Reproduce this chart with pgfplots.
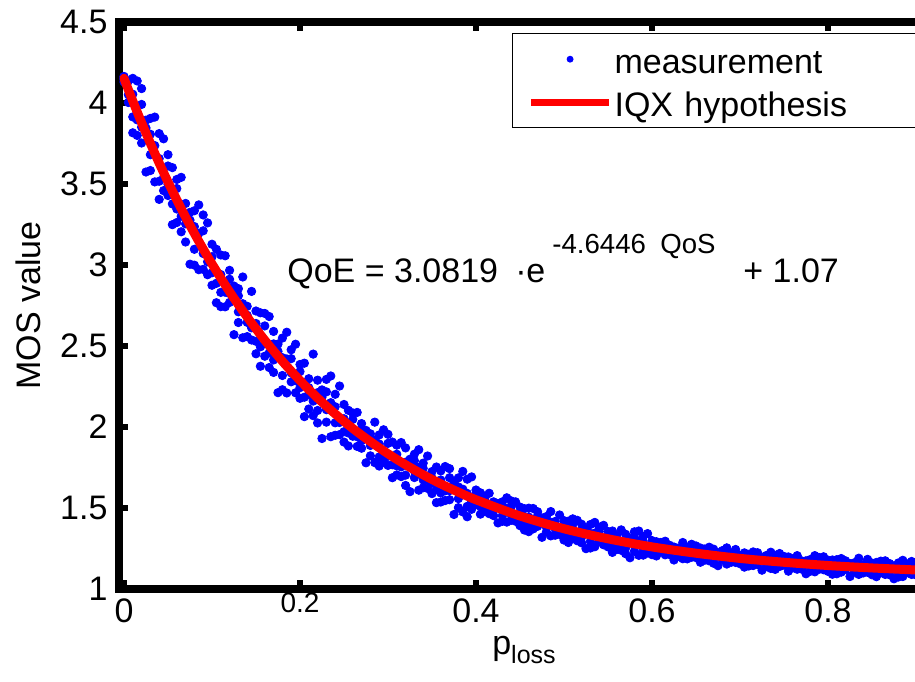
\documentclass[border=0pt]{standalone}
\usepackage{fontspec}
\setmainfont{Liberation Sans}
\usepackage{pgfplots}
\pgfplotsset{compat=1.18}
\pgfplotsset{
  legdot/.style={legend image code/.code={\draw[mark repeat=2, mark phase=2, ##1, mark size=1.4pt] plot coordinates {(0pt,0pt) (19.5pt,0pt) (39pt,0pt)};}},
  legline/.style={legend image code/.code={\draw[##1, line cap=butt, line width=3.5pt] (0pt,0pt) -- (39pt,0pt);}},
}
\newcommand{\fs}{\fontsize{17}{20}\selectfont}
\newcommand{\fsup}{\fontsize{13.8}{16}\selectfont}
\begin{document}
\begin{tikzpicture}
\path[use as bounding box] (-59.35pt,-46pt) rectangle (398.15pt,294.5pt);
\begin{axis}[
  scale only axis, width=403.05pt, height=283.5pt,
  xmin=-0.006, xmax=0.91, ymin=1, ymax=4.5,
  clip marker paths=true,
  axis line style={line width=4pt, line join=miter},
  tick align=inside, major tick length=4.5pt,
  tick style={black, line width=3pt},
  xtick={0,0.2,0.4,0.6,0.8},
  xticklabels={0,{\fontsize{14}{16}\selectfont\raisebox{5pt}{0.2}},0.4,0.6,0.8},
  ytick={1,1.5,2,2.5,3,3.5,4,4.5},
  yticklabels={1,1.5,2,2.5,3,3.5,4,4.5},
  tick label style={font=\fs},
  xticklabel style={anchor=base, inner sep=0pt, yshift=-16.5pt},
  yticklabel style={anchor=east, inner sep=0pt, xshift=-5.4pt},
  xlabel={p\raisebox{-4.5pt}{\fontsize{12.5}{14}\selectfont loss}},
  xlabel style={at={(axis description cs:0.5028,0)}, anchor=base, yshift=-32.5pt, font=\fs, inner sep=0pt},
  ylabel={MOS value},
  ylabel style={at={(axis description cs:-0.0976,0.5)}, anchor=base, font=\fs, inner sep=0pt},
  legend style={at={(0.4879,0.9806)}, anchor=north west, draw=black, line width=0.6pt, fill=white,
    inner xsep=7.5pt, inner ysep=3.8pt, row sep=3.5pt, font=\fs,
    nodes={inner sep=1pt, text height=15pt, text depth=1pt, text width=146pt},
    /tikz/every even column/.append style={column sep=5pt}},
  legend cell align=left,
]
\addplot[only marks, mark=*, mark size=2.1pt, color=blue, mark options={draw=blue, fill=blue}, legdot]
table[row sep=\\] {
x y\\
0.00 4.164\\ 0.00 4.146\\ 0.00 4.130\\ 0.00 4.154\\
0.01 4.152\\ 0.01 3.914\\ 0.01 4.054\\ 0.01 3.816\\
0.02 3.851\\ 0.02 3.991\\ 0.02 3.753\\ 0.02 4.089\\
0.03 3.807\\ 0.03 3.583\\ 0.03 3.905\\ 0.03 3.681\\
0.04 3.517\\ 0.04 3.657\\ 0.04 3.811\\ 0.04 3.405\\
0.05 3.681\\ 0.05 3.499\\ 0.05 3.429\\ 0.05 3.611\\
0.06 3.262\\ 0.06 3.472\\ 0.06 3.528\\ 0.06 3.346\\
0.07 3.380\\ 0.07 3.254\\ 0.07 3.142\\ 0.07 3.310\\
0.08 3.335\\ 0.08 3.097\\ 0.08 3.237\\ 0.08 2.999\\
0.09 3.071\\ 0.09 3.211\\ 0.09 2.973\\ 0.09 3.309\\
0.10 3.051\\ 0.10 2.875\\ 0.10 3.128\\ 0.10 2.952\\
0.11 2.831\\ 0.11 2.941\\ 0.11 3.062\\ 0.11 2.743\\
0.12 2.967\\ 0.12 2.824\\ 0.12 2.769\\ 0.12 2.912\\
0.13 2.645\\ 0.13 2.810\\ 0.13 2.854\\ 0.13 2.711\\
0.14 2.745\\ 0.14 2.646\\ 0.14 2.558\\ 0.14 2.690\\
0.15 2.716\\ 0.15 2.529\\ 0.15 2.639\\ 0.15 2.452\\
0.16 2.514\\ 0.16 2.624\\ 0.16 2.437\\ 0.16 2.701\\
0.17 2.513\\ 0.17 2.337\\ 0.17 2.590\\ 0.17 2.414\\
0.18 2.318\\ 0.18 2.428\\ 0.18 2.549\\ 0.18 2.230\\
0.19 2.477\\ 0.19 2.334\\ 0.19 2.279\\ 0.19 2.422\\
0.20 2.177\\ 0.20 2.342\\ 0.20 2.386\\ 0.20 2.243\\
0.21 2.298\\ 0.21 2.199\\ 0.21 2.111\\ 0.21 2.243\\
0.22 2.289\\ 0.22 2.102\\ 0.22 2.212\\ 0.22 2.025\\
0.23 2.107\\ 0.23 2.217\\ 0.23 2.030\\ 0.23 2.294\\
0.24 2.125\\ 0.24 1.949\\ 0.24 2.202\\ 0.24 2.026\\
0.25 1.971\\ 0.25 2.051\\ 0.25 2.139\\ 0.25 1.907\\
0.26 2.087\\ 0.26 1.983\\ 0.26 1.943\\ 0.26 2.047\\
0.27 1.869\\ 0.27 1.989\\ 0.27 2.021\\ 0.27 1.917\\
0.28 1.958\\ 0.28 1.886\\ 0.28 1.822\\ 0.28 1.918\\
0.29 1.951\\ 0.29 1.815\\ 0.29 1.895\\ 0.29 1.759\\
0.30 1.819\\ 0.30 1.899\\ 0.30 1.763\\ 0.30 1.955\\
0.31 1.832\\ 0.31 1.704\\ 0.31 1.888\\ 0.31 1.760\\
0.32 1.703\\ 0.32 1.783\\ 0.32 1.871\\ 0.32 1.639\\
0.33 1.832\\ 0.33 1.728\\ 0.33 1.688\\ 0.33 1.792\\
0.34 1.625\\ 0.34 1.745\\ 0.34 1.777\\ 0.34 1.673\\
0.35 1.725\\ 0.35 1.653\\ 0.35 1.589\\ 0.35 1.685\\
0.36 1.729\\ 0.36 1.593\\ 0.36 1.673\\ 0.36 1.537\\
0.37 1.607\\ 0.37 1.687\\ 0.37 1.551\\ 0.37 1.743\\
0.38 1.630\\ 0.38 1.502\\ 0.38 1.686\\ 0.38 1.558\\
0.39 1.510\\ 0.39 1.590\\ 0.39 1.678\\ 0.39 1.446\\
0.40 1.611\\ 0.40 1.546\\ 0.40 1.521\\ 0.40 1.586\\
0.41 1.479\\ 0.41 1.554\\ 0.41 1.574\\ 0.41 1.509\\
0.42 1.538\\ 0.42 1.493\\ 0.42 1.453\\ 0.42 1.513\\
0.43 1.538\\ 0.43 1.453\\ 0.43 1.503\\ 0.43 1.418\\
0.44 1.459\\ 0.44 1.509\\ 0.44 1.424\\ 0.44 1.544\\
0.45 1.471\\ 0.45 1.391\\ 0.45 1.506\\ 0.45 1.426\\
0.46 1.394\\ 0.46 1.444\\ 0.46 1.499\\ 0.46 1.354\\
0.47 1.477\\ 0.47 1.412\\ 0.47 1.387\\ 0.47 1.452\\
0.48 1.352\\ 0.48 1.427\\ 0.48 1.447\\ 0.48 1.382\\
0.49 1.417\\ 0.49 1.372\\ 0.49 1.332\\ 0.49 1.392\\
0.50 1.422\\ 0.50 1.337\\ 0.50 1.387\\ 0.50 1.302\\
0.51 1.348\\ 0.51 1.398\\ 0.51 1.313\\ 0.51 1.433\\
0.52 1.365\\ 0.52 1.285\\ 0.52 1.400\\ 0.52 1.320\\
0.53 1.293\\ 0.53 1.343\\ 0.53 1.398\\ 0.53 1.253\\
0.54 1.381\\ 0.54 1.316\\ 0.54 1.291\\ 0.54 1.356\\
0.55 1.260\\ 0.55 1.335\\ 0.55 1.355\\ 0.55 1.290\\
0.56 1.329\\ 0.56 1.284\\ 0.56 1.244\\ 0.56 1.304\\
0.57 1.338\\ 0.57 1.253\\ 0.57 1.303\\ 0.57 1.218\\
0.58 1.268\\ 0.58 1.318\\ 0.58 1.233\\ 0.58 1.353\\
0.59 1.289\\ 0.59 1.209\\ 0.59 1.324\\ 0.59 1.244\\
0.60 1.236\\ 0.60 1.266\\ 0.60 1.299\\ 0.60 1.212\\
0.61 1.287\\ 0.61 1.248\\ 0.61 1.233\\ 0.61 1.272\\
0.62 1.213\\ 0.62 1.258\\ 0.62 1.270\\ 0.62 1.231\\
0.63 1.253\\ 0.63 1.226\\ 0.63 1.202\\ 0.63 1.238\\
0.64 1.258\\ 0.64 1.207\\ 0.64 1.237\\ 0.64 1.186\\
0.65 1.215\\ 0.65 1.245\\ 0.65 1.194\\ 0.65 1.266\\
0.66 1.226\\ 0.66 1.178\\ 0.66 1.247\\ 0.66 1.199\\
0.67 1.183\\ 0.67 1.213\\ 0.67 1.246\\ 0.67 1.159\\
0.68 1.237\\ 0.68 1.198\\ 0.68 1.183\\ 0.68 1.222\\
0.69 1.165\\ 0.69 1.210\\ 0.69 1.222\\ 0.69 1.183\\
0.70 1.207\\ 0.70 1.180\\ 0.70 1.156\\ 0.70 1.192\\
0.71 1.214\\ 0.71 1.163\\ 0.71 1.193\\ 0.71 1.142\\
0.72 1.173\\ 0.72 1.203\\ 0.72 1.152\\ 0.72 1.224\\
0.73 1.186\\ 0.73 1.138\\ 0.73 1.207\\ 0.73 1.159\\
0.74 1.145\\ 0.74 1.175\\ 0.74 1.208\\ 0.74 1.121\\
0.75 1.201\\ 0.75 1.162\\ 0.75 1.147\\ 0.75 1.186\\
0.76 1.130\\ 0.76 1.175\\ 0.76 1.187\\ 0.76 1.148\\
0.77 1.174\\ 0.77 1.147\\ 0.77 1.123\\ 0.77 1.159\\
0.78 1.182\\ 0.78 1.131\\ 0.78 1.161\\ 0.78 1.110\\
0.79 1.143\\ 0.79 1.173\\ 0.79 1.122\\ 0.79 1.194\\
0.80 1.157\\ 0.80 1.109\\ 0.80 1.178\\ 0.80 1.130\\
0.81 1.118\\ 0.81 1.148\\ 0.81 1.181\\ 0.81 1.094\\
0.82 1.174\\ 0.82 1.135\\ 0.82 1.120\\ 0.82 1.159\\
0.83 1.105\\ 0.83 1.150\\ 0.83 1.162\\ 0.83 1.123\\
0.84 1.150\\ 0.84 1.123\\ 0.84 1.099\\ 0.84 1.135\\
0.85 1.160\\ 0.85 1.109\\ 0.85 1.139\\ 0.85 1.088\\
0.86 1.121\\ 0.86 1.151\\ 0.86 1.100\\ 0.86 1.172\\
0.87 1.136\\ 0.87 1.088\\ 0.87 1.157\\ 0.87 1.109\\
0.88 1.098\\ 0.88 1.128\\ 0.88 1.161\\ 0.88 1.074\\
0.89 1.155\\ 0.89 1.116\\ 0.89 1.101\\ 0.89 1.140\\
0.90 1.087\\ 0.90 1.132\\ 0.90 1.144\\ 0.90 1.105\\
0.005 4.135\\ 0.005 4.051\\ 0.005 4.003\\
0.015 3.896\\ 0.015 4.136\\ 0.015 3.800\\
0.025 3.894\\ 0.025 3.574\\ 0.025 3.846\\
0.035 3.513\\ 0.035 3.737\\ 0.035 3.913\\
0.045 3.779\\ 0.045 3.539\\ 0.045 3.459\\
0.055 3.601\\ 0.055 3.377\\ 0.055 3.249\\
0.065 3.301\\ 0.065 3.541\\ 0.065 3.205\\
0.075 3.325\\ 0.075 3.005\\ 0.075 3.277\\
0.085 2.971\\ 0.085 3.195\\ 0.085 3.371\\
0.095 3.260\\ 0.095 3.020\\ 0.095 2.940\\
0.105 3.097\\ 0.105 2.887\\ 0.105 2.767\\
0.115 2.832\\ 0.115 3.057\\ 0.115 2.742\\
0.125 2.870\\ 0.125 2.570\\ 0.125 2.825\\
0.135 2.551\\ 0.135 2.761\\ 0.135 2.926\\
0.145 2.837\\ 0.145 2.612\\ 0.145 2.537\\
0.155 2.705\\ 0.155 2.495\\ 0.155 2.375\\
0.165 2.457\\ 0.165 2.682\\ 0.165 2.367\\
0.175 2.512\\ 0.175 2.212\\ 0.175 2.467\\
0.185 2.210\\ 0.185 2.420\\ 0.185 2.585\\
0.195 2.511\\ 0.195 2.286\\ 0.195 2.211\\
0.205 2.394\\ 0.205 2.184\\ 0.205 2.064\\
0.215 2.160\\ 0.215 2.450\\ 0.215 2.070\\
0.225 2.229\\ 0.225 1.929\\ 0.225 2.184\\
0.235 1.940\\ 0.235 2.150\\ 0.235 2.315\\
0.245 2.253\\ 0.245 2.028\\ 0.245 1.953\\
0.255 2.103\\ 0.255 1.963\\ 0.255 1.883\\
0.265 1.940\\ 0.265 2.090\\ 0.265 1.880\\
0.275 1.979\\ 0.275 1.779\\ 0.275 1.949\\
0.285 1.780\\ 0.285 1.920\\ 0.285 2.030\\
0.295 1.983\\ 0.295 1.833\\ 0.295 1.783\\
0.305 1.907\\ 0.305 1.767\\ 0.305 1.687\\
0.315 1.754\\ 0.315 1.904\\ 0.315 1.694\\
0.325 1.801\\ 0.325 1.601\\ 0.325 1.771\\
0.335 1.610\\ 0.335 1.750\\ 0.335 1.860\\
0.345 1.821\\ 0.345 1.671\\ 0.345 1.621\\
0.355 1.753\\ 0.355 1.613\\ 0.355 1.533\\
0.365 1.606\\ 0.365 1.756\\ 0.365 1.546\\
0.375 1.660\\ 0.375 1.460\\ 0.375 1.630\\
0.385 1.476\\ 0.385 1.616\\ 0.385 1.726\\
0.395 1.692\\ 0.395 1.542\\ 0.395 1.492\\
0.405 1.594\\ 0.405 1.510\\ 0.405 1.462\\
0.415 1.501\\ 0.415 1.591\\ 0.415 1.465\\
0.425 1.528\\ 0.425 1.408\\ 0.425 1.510\\
0.435 1.413\\ 0.435 1.497\\ 0.435 1.563\\
0.445 1.538\\ 0.445 1.448\\ 0.445 1.418\\
0.455 1.496\\ 0.455 1.412\\ 0.455 1.364\\
0.465 1.407\\ 0.465 1.497\\ 0.465 1.371\\
0.475 1.439\\ 0.475 1.319\\ 0.475 1.421\\
0.485 1.328\\ 0.485 1.412\\ 0.485 1.478\\
0.495 1.457\\ 0.495 1.367\\ 0.495 1.337\\
0.505 1.419\\ 0.505 1.335\\ 0.505 1.287\\
0.515 1.334\\ 0.515 1.424\\ 0.515 1.298\\
0.525 1.369\\ 0.525 1.249\\ 0.525 1.351\\
0.535 1.261\\ 0.535 1.345\\ 0.535 1.411\\
0.545 1.393\\ 0.545 1.303\\ 0.545 1.273\\
0.555 1.358\\ 0.555 1.274\\ 0.555 1.226\\
0.565 1.275\\ 0.565 1.365\\ 0.565 1.239\\
0.575 1.313\\ 0.575 1.193\\ 0.575 1.295\\
0.585 1.208\\ 0.585 1.292\\ 0.585 1.358\\
0.595 1.342\\ 0.595 1.252\\ 0.595 1.222\\
0.605 1.292\\ 0.605 1.236\\ 0.605 1.204\\
0.615 1.235\\ 0.615 1.295\\ 0.615 1.211\\
0.625 1.259\\ 0.625 1.179\\ 0.625 1.247\\
0.635 1.187\\ 0.635 1.243\\ 0.635 1.287\\
0.645 1.276\\ 0.645 1.216\\ 0.645 1.196\\
0.655 1.253\\ 0.655 1.197\\ 0.655 1.165\\
0.665 1.198\\ 0.665 1.258\\ 0.665 1.174\\
0.675 1.224\\ 0.675 1.144\\ 0.675 1.212\\
0.685 1.154\\ 0.685 1.210\\ 0.685 1.254\\
0.695 1.244\\ 0.695 1.184\\ 0.695 1.164\\
0.705 1.223\\ 0.705 1.167\\ 0.705 1.135\\
0.715 1.169\\ 0.715 1.229\\ 0.715 1.145\\
0.725 1.196\\ 0.725 1.116\\ 0.725 1.184\\
0.735 1.127\\ 0.735 1.183\\ 0.735 1.227\\
0.745 1.219\\ 0.745 1.159\\ 0.745 1.139\\
0.755 1.198\\ 0.755 1.142\\ 0.755 1.110\\
0.765 1.146\\ 0.765 1.206\\ 0.765 1.122\\
0.775 1.174\\ 0.775 1.094\\ 0.775 1.162\\
0.785 1.106\\ 0.785 1.162\\ 0.785 1.206\\
0.795 1.199\\ 0.795 1.139\\ 0.795 1.119\\
0.805 1.179\\ 0.805 1.123\\ 0.805 1.091\\
0.815 1.128\\ 0.815 1.188\\ 0.815 1.104\\
0.825 1.157\\ 0.825 1.077\\ 0.825 1.145\\
0.835 1.090\\ 0.835 1.146\\ 0.835 1.190\\
0.845 1.183\\ 0.845 1.123\\ 0.845 1.103\\
0.855 1.164\\ 0.855 1.108\\ 0.855 1.076\\
0.865 1.114\\ 0.865 1.174\\ 0.865 1.090\\
0.875 1.143\\ 0.875 1.063\\ 0.875 1.131\\
0.885 1.077\\ 0.885 1.133\\ 0.885 1.177\\
0.895 1.170\\ 0.895 1.110\\ 0.895 1.090\\
0.905 1.152\\ 0.905 1.096\\ 0.905 1.064\\
};
\addlegendentry{measurement}
\addplot[red, line width=4.5pt, smooth, line cap=round, legline]
table[row sep=\\] {
x y\\
0 4.152\\ 0.01 4.012\\ 0.02 3.879\\ 0.03 3.751\\ 0.04 3.629\\ 0.05 3.513\\
0.06 3.402\\ 0.07 3.296\\ 0.08 3.195\\ 0.09 3.099\\ 0.10 3.007\\
0.12 2.835\\ 0.14 2.679\\ 0.16 2.536\\ 0.18 2.406\\ 0.20 2.287\\
0.22 2.179\\ 0.24 2.081\\ 0.26 1.991\\ 0.28 1.910\\ 0.30 1.835\\
0.32 1.767\\ 0.34 1.705\\ 0.36 1.649\\ 0.38 1.598\\ 0.40 1.551\\
0.45 1.451\\ 0.50 1.372\\ 0.55 1.310\\ 0.60 1.260\\ 0.65 1.221\\
0.70 1.189\\ 0.75 1.165\\ 0.80 1.145\\ 0.85 1.130\\ 0.91 1.115\\
};
\addlegendentry{IQX hypothesis}
\node[anchor=base west, font=\fs, inner sep=0pt] at (axis cs:0.1852,2.889) {QoE = 3.0819};
\node[anchor=base west, font=\fs, inner sep=0pt] at (axis cs:0.4443,2.889) {·};
\node[anchor=base west, font=\fs, inner sep=0pt] at (axis cs:0.4568,2.889) {e};
\node[anchor=base west, font=\fsup, inner sep=0pt] at (axis cs:0.4864,3.068) {-4.6446};
\node[anchor=base west, font=\fsup, inner sep=0pt] at (axis cs:0.6091,3.068) {QoS};
\node[anchor=base west, font=\fs, inner sep=0pt] at (axis cs:0.7034,2.889) {+ 1.07};
\end{axis}
\end{tikzpicture}
\end{document}
